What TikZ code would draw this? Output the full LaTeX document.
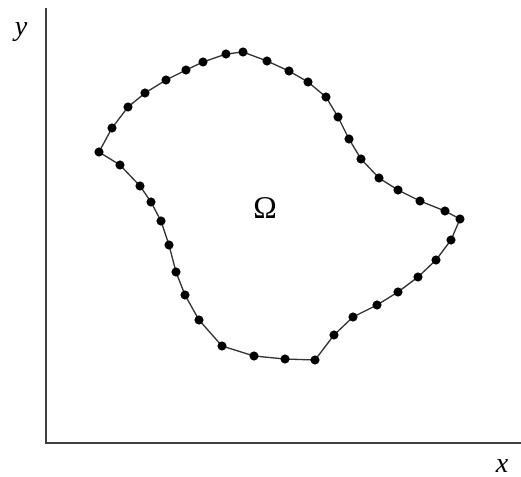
\documentclass[tikz,border=0pt]{standalone}
\usepackage{fontspec}
\setmainfont{Liberation Serif}
\usetikzlibrary{calc,positioning}

\tikzset{
  axis/.style={draw=black!75,line width=1.1pt},
  bnd/.style={draw=black!80,line width=0.75pt},
  knot/.style={circle,fill=black,inner sep=0pt,minimum size=5.2pt},
  lab/.style={font=\itshape\fontsize{16}{18}\selectfont},
}

\begin{document}
\begin{tikzpicture}[x=0.02cm,y=-0.02cm]
  \useasboundingbox (0,0) rectangle (521,477);
  % axes
  \coordinate (o) at (46,443);
  \coordinate (ytop) at (46,8);
  \coordinate (xend) at (521,443);
  \draw[axis] (ytop) -- (o) -- (xend);
  \node[lab] (ylab) at (21,32) {y};
  \node[lab] (xlab) at (502,466) {x};
  % boundary of the domain
  \foreach \px/\py [count=\i] in {99/152,112/128,128/107,145/93,166/80,186/70,203/62,
      226/54,243/52,267/61,289/71,308/82,326/97,338/117,349/139,361/159,379/178,
      398/190,420/201,445/211,460/219,451/240,436/260,418/277,398/292,377/305,
      353/317,334/335,315/360,285/359,254/356,222/346,199/320,185/295,176/272,
      169/245,161/221,151/202,140/186,120/165}
    {\coordinate (p\i) at (\px,\py);}
  \draw[bnd] (p1) \foreach \i in {2,...,40}{ -- (p\i)} -- cycle;
  \foreach \i in {1,...,40}{\node[knot] (k\i) at (p\i) {};}
  \node[font=\fontsize{18}{20}\selectfont] (omega) at (265,208) {Ω};
\end{tikzpicture}
\end{document}
